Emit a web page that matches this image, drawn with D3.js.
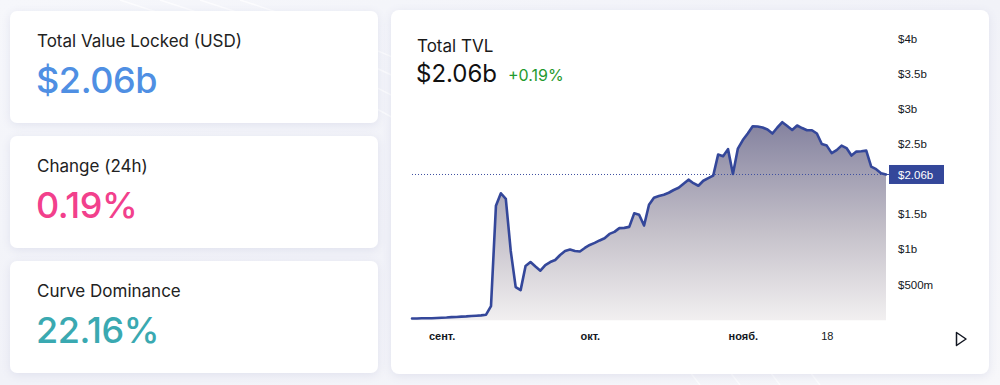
<!DOCTYPE html>
<html>
<head>
<meta charset="utf-8">
<script src="https://cdn.jsdelivr.net/npm/d3@7"></script>
<style>
  html, body { margin: 0; padding: 0; background: #f5f6fa; }
  svg { display: block; }
</style>
</head>
<body>
<svg id="chart" width="1000" height="385"></svg>
<script>
// ---------------- DATA ----------------
const startDate = "2021-08-26";
const tvlValues = [
  0.010, 0.011, 0.014, 0.014, 0.014, 0.017, 0.021, 0.024, 0.029, 0.031,
  0.036, 0.040, 0.046, 0.050, 0.054, 0.064, 0.186, 1.614, 1.793, 1.714,
  0.971, 0.457, 0.414, 0.757, 0.814, 0.750, 0.690, 0.771, 0.814, 0.843,
  0.914, 0.971, 0.993, 0.971, 0.964, 1.014, 1.057, 1.086, 1.121, 1.153,
  1.214, 1.243, 1.296, 1.300, 1.314, 1.507, 1.486, 1.333, 1.629, 1.729,
  1.753, 1.771, 1.800, 1.839, 1.871, 1.929, 1.986, 1.936, 1.900, 1.971,
  2.007, 2.043, 2.343, 2.321, 2.421, 2.067, 2.429, 2.550, 2.643, 2.747,
  2.743, 2.729, 2.700, 2.643, 2.729, 2.804, 2.750, 2.693, 2.757, 2.721,
  2.690, 2.690, 2.643, 2.493, 2.471, 2.364, 2.407, 2.471, 2.436, 2.329,
  2.386, 2.390, 2.400, 2.171, 2.136, 2.079, 2.060
];
const yTickValues = [0.5, 1, 1.5, 2.5, 3, 3.5, 4];
const yTickLabels = ["$500m", "$1b", "$1.5b", "$2.5b", "$3b", "$3.5b", "$4b"];
const xTickDates = ["2021-09-01", "2021-10-01", "2021-11-01", "2021-11-18"];
const xTickLabels = ["сент.", "окт.", "нояб.", "18"];
const xTickBold = [true, true, true, false];
const currentValue = 2.06;
const currentLabel = "$2.06b";

const statTitles = ["Total Value Locked (USD)", "Change (24h)", "Curve Dominance"];
const statValues = ["$2.06b", "0.19%", "22.16%"];
const statColors = ["#4f8fe3", "#f2408c", "#3aa9b1"];

// ---------------- SETUP ----------------
const svg = d3.select("#chart");
const parse = d3.timeParse("%Y-%m-%d");
const t0 = parse(startDate);
const data = tvlValues.map((v, i) => ({ date: d3.timeDay.offset(t0, i), value: v }));

const defs = svg.append("defs");
const sh = defs.append("filter").attr("id", "shadow")
  .attr("x", "-10%").attr("y", "-20%").attr("width", "120%").attr("height", "140%");
sh.append("feDropShadow").attr("dx", 0).attr("dy", 2).attr("stdDeviation", 5)
  .attr("flood-color", "#c9cce0").attr("flood-opacity", 0.45);

// background
const bg = defs.append("linearGradient").attr("id", "bgGrad")
  .attr("x1", 0).attr("y1", 0).attr("x2", 1).attr("y2", 1);
bg.append("stop").attr("offset", "0%").attr("stop-color", "#f6f7fb");
bg.append("stop").attr("offset", "50%").attr("stop-color", "#f1f2f8");
bg.append("stop").attr("offset", "100%").attr("stop-color", "#f7f7fa");
svg.append("rect").attr("width", 1000).attr("height", 385).attr("fill", "url(#bgGrad)");
const arcs = svg.append("g").attr("fill", "none").attr("stroke", "#ffffff").attr("stroke-opacity", 0.7).attr("stroke-width", 1.5);
[0, 40, 80, 120].forEach(o => {
  arcs.append("path").attr("d", `M ${120 + o} 0 Q ${500 + o} 120 ${700 + o} 385`);
});

// ---------------- STAT CARDS ----------------
const cardTops = [11, 136, 261];
cardTops.forEach((top, i) => {
  const g = svg.append("g");
  g.append("rect").attr("x", 10).attr("y", top).attr("width", 368).attr("height", 112)
    .attr("rx", 7).attr("fill", "#ffffff").attr("filter", "url(#shadow)");
  g.append("text").attr("x", 37).attr("y", top + 36)
    .attr("font-family", "Inter, 'Noto Sans', sans-serif").attr("font-size", 17)
    .attr("fill", "#222222").text(statTitles[i]);
  g.append("text").attr("x", 36).attr("y", top + 82)
    .attr("font-family", "Inter, 'Noto Sans', sans-serif").attr("font-size", 36).attr("font-weight", 500)
    .attr("letter-spacing", -0.4)
    .attr("fill", statColors[i]).text(statValues[i]);
});

// ---------------- CHART CARD ----------------
svg.append("rect").attr("x", 391).attr("y", 10).attr("width", 598).attr("height", 364)
  .attr("rx", 8).attr("fill", "#ffffff").attr("filter", "url(#shadow)");

svg.append("text").attr("x", 417).attr("y", 52)
  .attr("font-family", "Inter, 'Noto Sans', sans-serif").attr("font-size", 17)
  .attr("fill", "#1a1a1a").text("Total TVL");
svg.append("text").attr("x", 416).attr("y", 82)
  .attr("font-family", "Inter, 'Noto Sans', sans-serif").attr("font-size", 24)
  .attr("fill", "#111111").text("$2.06b");
svg.append("text").attr("x", 508).attr("y", 81)
  .attr("font-family", "Inter, 'Noto Sans', sans-serif").attr("font-size", 16)
  .attr("fill", "#1f9a2e").text("+0.19%");

const x = d3.scaleTime()
  .domain([data[0].date, data[data.length - 1].date])
  .range([412, 886]);
const y = d3.scaleLinear().domain([0, 4]).range([319.2, 38.2]);

const areaGrad = defs.append("linearGradient").attr("id", "areaGrad")
  .attr("gradientUnits", "userSpaceOnUse")
  .attr("x1", 0).attr("x2", 0).attr("y1", y(d3.max(tvlValues))).attr("y2", y(0));
areaGrad.append("stop").attr("offset", "0%").attr("stop-color", "#84829f");
areaGrad.append("stop").attr("offset", "55%").attr("stop-color", "#c4c0c9");
areaGrad.append("stop").attr("offset", "100%").attr("stop-color", "#f1eff0");

const area = d3.area().x(d => x(d.date)).y0(y(0) + 1).y1(d => y(d.value));
const line = d3.line().x(d => x(d.date)).y(d => y(d.value));

svg.append("path").datum(data).attr("d", area).attr("fill", "url(#areaGrad)");

// current price dotted line
svg.append("line")
  .attr("x1", x.range()[0]).attr("x2", x.range()[1])
  .attr("y1", y(currentValue)).attr("y2", y(currentValue))
  .attr("stroke", "#3f50a0").attr("stroke-width", 1).attr("stroke-dasharray", "1,2");

svg.append("path").datum(data).attr("d", line)
  .attr("fill", "none").attr("stroke", "#34479a").attr("stroke-width", 2.6)
  .attr("stroke-linejoin", "round").attr("stroke-linecap", "round");

// Y axis
const yAxis = d3.axisRight(y).tickValues(yTickValues)
  .tickFormat((d, i) => yTickLabels[i]).tickSize(0).tickPadding(0);
const yg = svg.append("g").attr("transform", "translate(898,0)").call(yAxis);
yg.select(".domain").remove();
yg.selectAll("text").attr("font-family", "'Liberation Sans', Arial, sans-serif")
  .attr("font-size", 11.5).attr("fill", "#131722").attr("dy", "0.35em");

// current price label
const cy = y(currentValue);
svg.append("line").attr("x1", 884).attr("x2", 889).attr("y1", cy).attr("y2", cy)
  .attr("stroke", "#34479a").attr("stroke-width", 1);
svg.append("rect").attr("x", 889).attr("y", cy - 9.5).attr("width", 55).attr("height", 19)
  .attr("fill", "#34479a");
svg.append("text").attr("x", 898).attr("y", cy).attr("dy", "0.35em")
  .attr("font-family", "'Liberation Sans', Arial, sans-serif").attr("font-size", 11.5)
  .attr("fill", "#ffffff").text(currentLabel);

// X axis
const xAxis = d3.axisBottom(x).tickValues(xTickDates.map(parse))
  .tickFormat((d, i) => xTickLabels[i]).tickSize(0).tickPadding(0);
const xg = svg.append("g").attr("transform", "translate(0,336)").call(xAxis);
xg.select(".domain").remove();
xg.selectAll("text").attr("font-family", "'Liberation Sans', Arial, sans-serif")
  .attr("font-size", 11).attr("fill", "#131722").attr("dy", "0.35em")
  .attr("font-weight", (d, i) => xTickBold[i] ? "bold" : "normal");

// play triangle icon
svg.append("path").attr("d", "M 956.5 332.5 L 966 339 L 956.5 345.5 Z")
  .attr("fill", "none").attr("stroke", "#131722").attr("stroke-width", 1.5).attr("stroke-linejoin", "round");
</script>
</body>
</html>
